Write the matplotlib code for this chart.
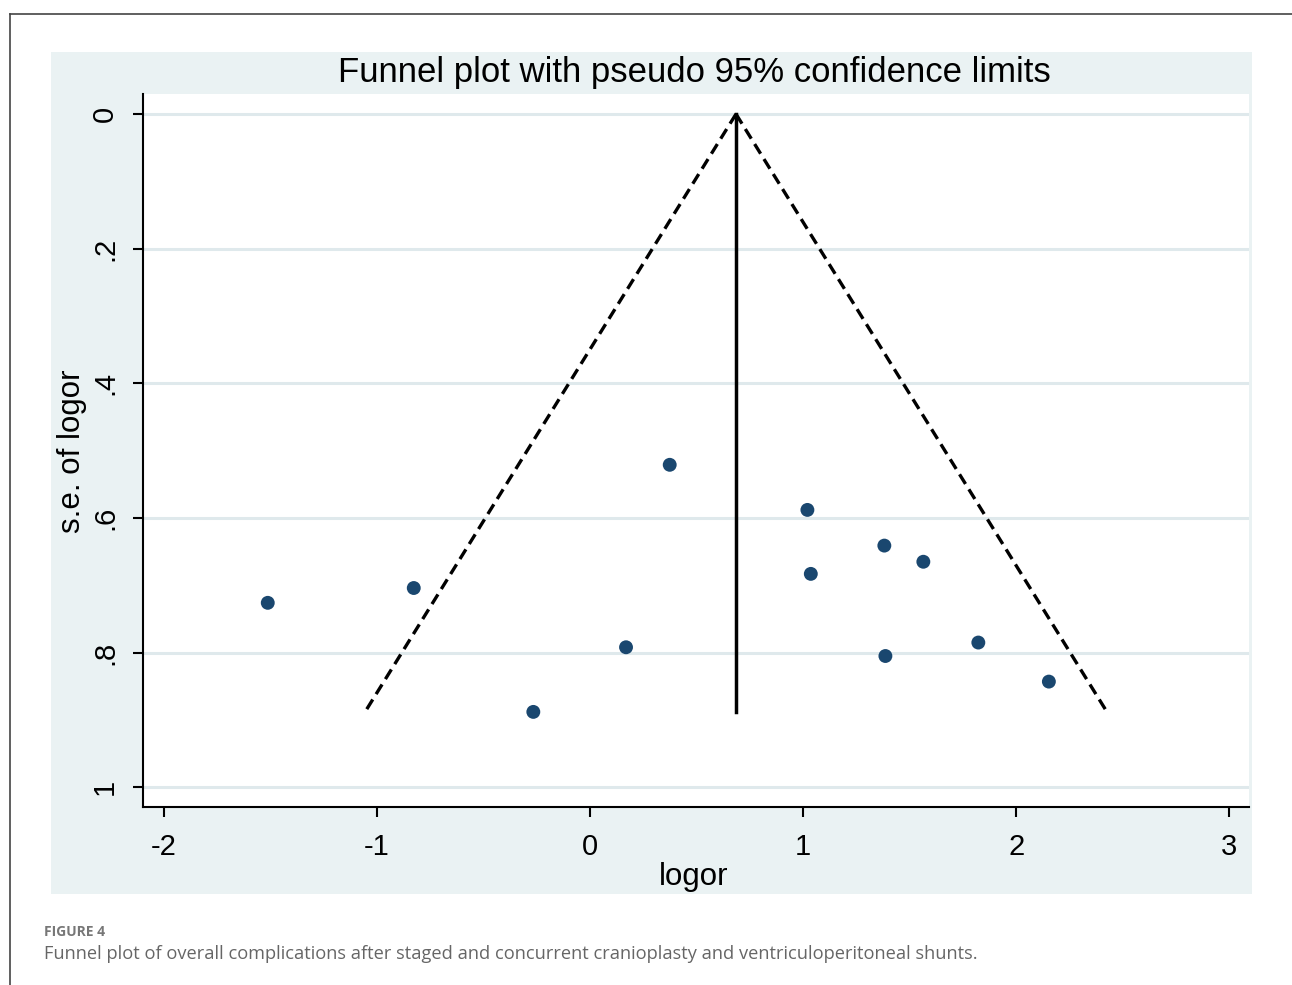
import numpy as np
import matplotlib.pyplot as plt
from matplotlib.patches import Rectangle
from matplotlib.lines import Line2D

# estudios (efecto y error estandar)
logor = [-1.512, -0.827, -0.266, 0.169, 0.374, 1.020, 1.036, 1.381, 1.386, 1.564, 1.822, 2.153]
se_logor = [0.726, 0.704, 0.888, 0.792, 0.521, 0.588, 0.683, 0.641, 0.805, 0.665, 0.785, 0.843]
pooled = 0.685

xticks = [-2, -1, 0, 1, 2, 3]
yticks = [0, 0.2, 0.4, 0.6, 0.8, 1]
ytick_labels = ["0", ".2", ".4", ".6", ".8", "1"]

W, H = 1292, 985
fig = plt.figure(figsize=(W / 100, H / 100), dpi=100)
fig.patch.set_facecolor("white")


def fx(px):
    return px / W


def fy(py):
    return 1 - py / H


# marco de la figura
fig.add_artist(Line2D([fx(10), 1], [fy(14), fy(14)], color="#444444", lw=1.2))
fig.add_artist(Line2D([fx(10), fx(10)], [fy(14), 0], color="#444444", lw=1.2))

# region del grafico (estilo Stata)
fig.add_artist(Rectangle((fx(51), fy(894)), fx(1252) - fx(51), fy(52) - fy(894),
                         facecolor="#eaf2f3", edgecolor="none", zorder=0))

ax = fig.add_axes([fx(143.3), fy(807.3), fx(1249) - fx(143.3), fy(94.3) - fy(807.3)])
ax.set_facecolor("white")
ax.set_xlim(-2.096, 3.092)
ax.set_ylim(1.0297, -0.0293)

# limites de confianza del 95%
se_max = max(se_logor)
se_line = np.array([0, se_max])
ax.plot(pooled - 1.96 * se_line, se_line, color="black", lw=2.4, ls=(0, (3.4, 1.9)), zorder=3)
ax.plot(pooled + 1.96 * se_line, se_line, color="black", lw=2.4, ls=(0, (3.4, 1.9)), zorder=3)
ax.plot([pooled, pooled], [0, se_max], color="black", lw=2.5, zorder=3)

ax.scatter(logor, se_logor, s=100, color="#1a476f", edgecolors="none", zorder=4)

ax.set_xticks(xticks)
ax.set_xticklabels([str(t) for t in xticks])
ax.set_yticks(yticks)
ax.set_yticklabels(ytick_labels, rotation=90, va="center")
ax.yaxis.grid(True, color="#dfe9ec", lw=2.2)
ax.set_axisbelow(True)

for s in ["top", "right"]:
    ax.spines[s].set_visible(False)
for s in ["left", "bottom"]:
    ax.spines[s].set_linewidth(1.5)

ax.tick_params(direction="out", length=7.5, width=1.5, labelsize=21)
ax.tick_params(axis="x", pad=11)
ax.tick_params(axis="y", pad=10)
for lab in ax.get_xticklabels() + ax.get_yticklabels():
    lab.set_family("Liberation Sans")

fig.text(fx(694.5), fy(82), "Funnel plot with pseudo 95% confidence limits",
         ha="center", va="baseline", fontsize=25, family="Liberation Sans")
fig.text(fx(694), fy(885), "logor", ha="center", va="baseline",
         fontsize=22.5, family="Liberation Sans")
fig.text(fx(72), fy(451), "s.e. of logor", ha="center", va="center", rotation=90,
         fontsize=22.5, family="Liberation Sans")

# pie de figura
fig.text(fx(44), fy(936), "FIGURE 4", ha="left", va="baseline", fontsize=10,
         fontweight="bold", color="#777777", family="Open Sans")
fig.text(fx(44), fy(959), "Funnel plot of overall complications after staged and concurrent "
         "cranioplasty and ventriculoperitoneal shunts.", ha="left", va="baseline",
         fontsize=13.15, color="#666666", family="Open Sans")

fig.savefig("out.png", dpi=100)
